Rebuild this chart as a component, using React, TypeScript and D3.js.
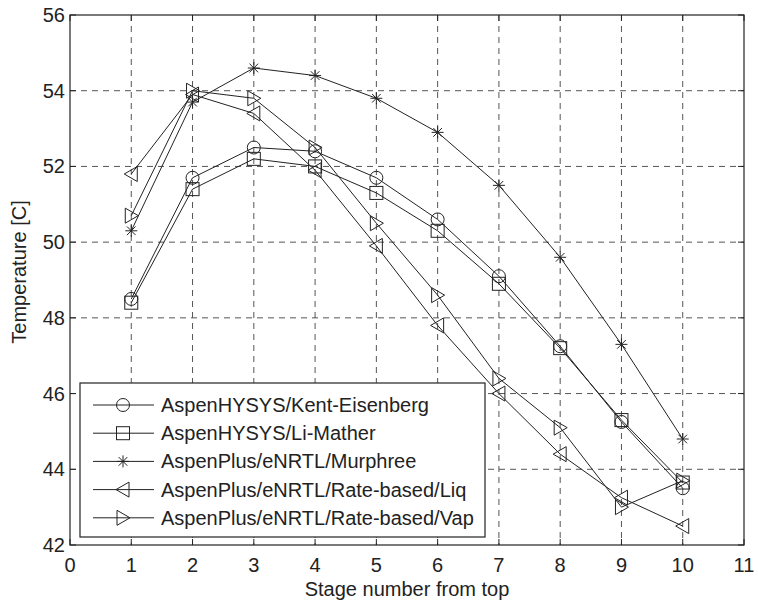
import React from "react";
import * as d3 from "d3";

const stages = [1, 2, 3, 4, 5, 6, 7, 8, 9, 10];
const kentEisenberg = [48.5, 51.7, 52.5, 52.4, 51.7, 50.6, 49.1, 47.25, 45.25, 43.5];
const liMather = [48.4, 51.4, 52.2, 52.0, 51.3, 50.3, 48.9, 47.2, 45.3, 43.65];
const murphree = [50.3, 53.7, 54.6, 54.4, 53.8, 52.9, 51.5, 49.6, 47.3, 44.8];
const rateLiq = [51.8, 53.9, 53.4, 51.9, 49.9, 47.8, 46.0, 44.4, 43.25, 42.5];
const rateVap = [50.7, 54.0, 53.8, 52.5, 50.5, 48.6, 46.4, 45.1, 43.0, 43.7];
const xTicks = [0, 1, 2, 3, 4, 5, 6, 7, 8, 9, 10, 11];
const yTicks = [42, 44, 46, 48, 50, 52, 54, 56];

const seriesNames = [
  "AspenHYSYS/Kent-Eisenberg",
  "AspenHYSYS/Li-Mather",
  "AspenPlus/eNRTL/Murphree",
  "AspenPlus/eNRTL/Rate-based/Liq",
  "AspenPlus/eNRTL/Rate-based/Vap",
];
const seriesValues = [kentEisenberg, liMather, murphree, rateLiq, rateVap];
const markers = ["circle", "square", "star", "left", "right"];

const L = 70, R = 744, T = 15, B = 545;
const FONT = "Liberation Sans, Arial, Helvetica, sans-serif";
const FS = 20;

function Marker({ type, x, y }: { type: string; x: number; y: number }) {
  const st = { fill: "none", stroke: "#222", strokeWidth: 1 };
  if (type === "circle") return <circle cx={x} cy={y} r={6.5} {...st} />;
  if (type === "square") return <rect x={x - 6.5} y={y - 6.5} width={13} height={13} {...st} />;
  if (type === "left")
    return <path d={`M${x - 7},${y} L${x + 6},${y - 7.5} L${x + 6},${y + 7.5} Z`} {...st} />;
  if (type === "right")
    return <path d={`M${x + 7},${y} L${x - 6},${y - 7.5} L${x - 6},${y + 7.5} Z`} {...st} />;
  const r = 6;
  const d = r * 0.72;
  const p = [
    `M${x - r},${y} L${x + r},${y}`,
    `M${x},${y - r} L${x},${y + r}`,
    `M${x - d},${y - d} L${x + d},${y + d}`,
    `M${x - d},${y + d} L${x + d},${y - d}`,
  ].join(" ");
  return <path d={p} {...st} />;
}

export default function App() {
  const x = d3.scaleLinear().domain([0, 11]).range([L, R]);
  const y = d3.scaleLinear().domain([42, 56]).range([B, T]);
  const line = d3
    .line<number>()
    .x((_, i) => x(stages[i]))
    .y((v) => y(v));

  const legX = 80, legY = 383, legW = 405, legH = 154;
  const rowH = 28.2;

  return (
    <svg width={758} height={604} style={{ position: "absolute", left: 0, top: 0, background: "#fff" }} fontFamily={FONT}>
      <rect x={0} y={0} width={758} height={604} fill="#fff" />
      {xTicks.filter((t) => t > 0 && t < 11).map((t) => (
        <line key={"gx" + t} x1={x(t)} x2={x(t)} y1={T} y2={B} stroke="#555" strokeWidth={1} strokeDasharray="6,5" />
      ))}
      {yTicks.filter((t) => t > 42 && t < 56).map((t) => (
        <line key={"gy" + t} x1={L} x2={R} y1={y(t)} y2={y(t)} stroke="#555" strokeWidth={1} strokeDasharray="6,5" />
      ))}
      {xTicks.map((t) => (
        <g key={"tx" + t}>
          <line x1={x(t)} x2={x(t)} y1={B} y2={B - 6} stroke="#222" />
          <line x1={x(t)} x2={x(t)} y1={T} y2={T + 6} stroke="#222" />
          <text x={x(t)} y={B + 27} fontSize={FS} textAnchor="middle" fill="#222">{t}</text>
        </g>
      ))}
      {yTicks.map((t) => (
        <g key={"ty" + t}>
          <line x1={L} x2={L + 6} y1={y(t)} y2={y(t)} stroke="#222" />
          <line x1={R} x2={R - 6} y1={y(t)} y2={y(t)} stroke="#222" />
          <text x={L - 5} y={y(t) + 7} fontSize={FS} textAnchor="end" fill="#222">{t}</text>
        </g>
      ))}
      {seriesValues.map((vals, si) => (
        <g key={"s" + si}>
          <path d={line(vals) || ""} fill="none" stroke="#222" strokeWidth={1} />
          {vals.map((v, i) => (
            <Marker key={i} type={markers[si]} x={x(stages[i])} y={y(v)} />
          ))}
        </g>
      ))}
      <rect x={L} y={T} width={R - L} height={B - T} fill="none" stroke="#222" strokeWidth={1.2} />
      <rect x={legX} y={legY} width={legW} height={legH} fill="#fff" stroke="#222" strokeWidth={1.2} />
      {seriesNames.map((name, i) => {
        const cy = legY + 22 + i * rowH;
        return (
          <g key={"l" + i}>
            <line x1={93} x2={154} y1={cy} y2={cy} stroke="#222" />
            <Marker type={markers[i]} x={123} y={cy} />
            <text x={161} y={cy + 7} fontSize={FS} fill="#222">{name}</text>
          </g>
        );
      })}
      <text x={(L + R) / 2} y={596} fontSize={FS} textAnchor="middle" fill="#222">Stage number from top</text>
      <text transform={`translate(26,${272}) rotate(-90)`} fontSize={FS} textAnchor="middle" fill="#222">Temperature [C]</text>
    </svg>
  );
}
